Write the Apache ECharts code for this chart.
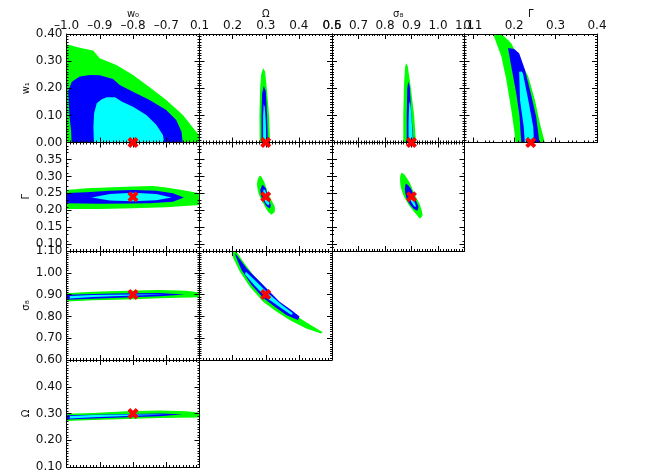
<!DOCTYPE html>
<html>
<head>
<meta charset="utf-8">
<script src="https://cdn.jsdelivr.net/npm/echarts@6/dist/echarts.min.js"></script>
<style>
html, body { margin: 0; padding: 0; background: #fff; }
#main { width: 664px; height: 475px; }
</style>
</head>
<body>
<div id="main"></div>
<script>
// fiducial model (red crosses)
var fidW0 = -0.8, fidW1 = 0.0, fidOmega = 0.3, fidSigma8 = 0.9, fidGamma = 0.24;

// tick labels
var w0Ticks = [-1.0, -0.9, -0.8, -0.7];
var omegaXTicks = [0.1, 0.2, 0.3, 0.4, 0.5];
var sigmaXTicks = [0.6, 0.7, 0.8, 0.9, 1.0, 1.1];
var gammaXTicks = [0.1, 0.2, 0.3, 0.4];
var w1Ticks = [0.0, 0.1, 0.2, 0.3, 0.4];
var gammaYTicks = [0.10, 0.15, 0.20, 0.25, 0.30, 0.35];
var sigmaYTicks = [0.6, 0.7, 0.8, 0.9, 1.0, 1.1];
var omegaYTicks = [0.1, 0.2, 0.3, 0.4];

/* contours [x, y], outer (green) -> middle (blue) -> inner (cyan) */
// w1 vs w0
var w1w0Green = [[-1.03,0.362],[-1.0,0.362],[-0.96,0.349],[-0.92,0.339],[-0.90,0.311],[-0.85,0.286],[-0.80,0.249],[-0.75,0.204],[-0.70,0.157],[-0.65,0.101],[-0.61,0.040],[-0.59,0.015],[-0.59,-0.03],[-1.03,-0.03]];
var w1w0Blue = [[-0.984,-0.03],[-0.986,0.04],[-0.991,0.095],[-0.995,0.19],[-0.984,0.224],[-0.96,0.243],[-0.93,0.249],[-0.90,0.248],[-0.86,0.234],[-0.84,0.212],[-0.80,0.187],[-0.75,0.157],[-0.70,0.12],[-0.67,0.083],[-0.654,0.04],[-0.648,-0.03]];
var w1w0Cyan = [[-0.917,-0.03],[-0.919,0.058],[-0.917,0.108],[-0.909,0.145],[-0.894,0.159],[-0.879,0.167],[-0.854,0.167],[-0.834,0.151],[-0.80,0.132],[-0.76,0.101],[-0.73,0.065],[-0.71,0.028],[-0.702,-0.03]];
// w1 vs Omega
var w1OmGreen = [[0.282,-0.03],[0.281,0.10],[0.283,0.20],[0.286,0.25],[0.292,0.274],[0.298,0.262],[0.303,0.20],[0.310,0.10],[0.314,-0.03]];
var w1OmBlue = [[0.287,-0.03],[0.287,0.10],[0.289,0.18],[0.294,0.208],[0.300,0.19],[0.304,0.10],[0.307,-0.03]];
var w1OmCyan = [[0.292,-0.03],[0.292,0.10],[0.294,0.142],[0.297,0.13],[0.300,0.08],[0.302,-0.03]];
// w1 vs sigma8
var w1SgGreen = [[0.869,-0.03],[0.869,0.10],[0.872,0.22],[0.876,0.28],[0.880,0.292],[0.886,0.28],[0.895,0.22],[0.910,0.10],[0.919,-0.03]];
var w1SgBlue = [[0.882,-0.03],[0.882,0.10],[0.884,0.20],[0.888,0.224],[0.893,0.21],[0.900,0.10],[0.911,-0.03]];
var w1SgCyan = [[0.889,-0.03],[0.889,0.08],[0.891,0.14],[0.894,0.151],[0.897,0.13],[0.903,0.05],[0.907,-0.03]];
// w1 vs Gamma
var w1GaGreen = [[0.148,0.43],[0.170,0.43],[0.170,0.40],[0.193,0.366],[0.213,0.304],[0.234,0.243],[0.250,0.157],[0.262,0.071],[0.274,0.0],[0.276,-0.03],[0.203,-0.03],[0.203,0.0],[0.201,0.034],[0.193,0.120],[0.181,0.231],[0.169,0.317],[0.149,0.40]];
var w1GaBlue = [[0.185,0.348],[0.200,0.345],[0.212,0.329],[0.226,0.268],[0.242,0.169],[0.253,0.095],[0.261,0.0],[0.262,-0.03],[0.217,-0.03],[0.217,0.0],[0.213,0.095],[0.205,0.182],[0.193,0.280]];
var w1GaCyan = [[0.212,0.261],[0.218,0.262],[0.221,0.255],[0.234,0.157],[0.246,0.058],[0.249,-0.03],[0.227,-0.03],[0.223,0.058],[0.214,0.157]];
// Gamma vs w0
var gaW0Green = [[-1.03,0.26],[-1.0,0.26],[-0.94,0.265],[-0.80,0.270],[-0.74,0.272],[-0.70,0.267],[-0.64,0.258],[-0.60,0.25],[-0.59,0.248],[-0.59,0.216],[-0.60,0.216],[-0.70,0.209],[-0.80,0.206],[-0.90,0.204],[-1.0,0.204],[-1.03,0.204]];
var gaW0Blue = [[-1.03,0.25],[-0.94,0.253],[-0.87,0.258],[-0.80,0.26],[-0.73,0.258],[-0.68,0.25],[-0.647,0.238],[-0.68,0.225],[-0.75,0.221],[-0.80,0.22],[-0.90,0.219],[-1.03,0.221]];
var gaW0Cyan = [[-0.924,0.238],[-0.87,0.248],[-0.80,0.252],[-0.73,0.248],[-0.684,0.238],[-0.73,0.230],[-0.80,0.227],[-0.87,0.229]];
// Gamma vs Omega
var gaOmGreen = [[0.282,0.302],[0.287,0.299],[0.297,0.280],[0.307,0.250],[0.317,0.230],[0.327,0.211],[0.327,0.196],[0.317,0.188],[0.307,0.196],[0.292,0.221],[0.280,0.245],[0.274,0.270],[0.275,0.289]];
var gaOmBlue = [[0.290,0.275],[0.300,0.265],[0.307,0.240],[0.315,0.216],[0.312,0.206],[0.300,0.216],[0.287,0.240],[0.284,0.260]];
var gaOmCyan = [[0.294,0.262],[0.299,0.258],[0.304,0.245],[0.311,0.222],[0.308,0.214],[0.298,0.225],[0.291,0.245]];
// Gamma vs sigma8
var gaSgGreen = [[0.863,0.311],[0.875,0.304],[0.894,0.280],[0.913,0.245],[0.932,0.216],[0.942,0.186],[0.932,0.176],[0.920,0.186],[0.894,0.211],[0.872,0.240],[0.859,0.270],[0.857,0.299]];
var gaSgBlue = [[0.879,0.278],[0.897,0.265],[0.913,0.235],[0.926,0.211],[0.922,0.199],[0.907,0.206],[0.884,0.230],[0.875,0.260]];
var gaSgCyan = [[0.892,0.252],[0.900,0.245],[0.912,0.222],[0.917,0.211],[0.910,0.212],[0.897,0.228],[0.889,0.245]];
// sigma8 vs w0
var sgW0Green = [[-1.03,0.906],[-1.0,0.906],[-0.92,0.913],[-0.82,0.918],[-0.72,0.921],[-0.64,0.918],[-0.60,0.91],[-0.59,0.905],[-0.59,0.888],[-0.60,0.888],[-0.72,0.883],[-0.82,0.878],[-0.92,0.874],[-1.0,0.868],[-1.03,0.868]];
var sgW0Blue = [[-1.03,0.898],[-0.92,0.903],[-0.82,0.906],[-0.72,0.907],[-0.644,0.901],[-0.72,0.892],[-0.82,0.887],[-0.92,0.881],[-1.03,0.875]];
var sgW0Cyan = [[-0.99,0.894],[-0.92,0.898],[-0.82,0.901],[-0.70,0.900],[-0.82,0.895],[-0.92,0.889],[-0.99,0.882]];
// sigma8 vs Omega
var sgOmGreen = [[0.197,1.12],[0.212,1.12],[0.212,1.097],[0.232,1.051],[0.262,0.990],[0.297,0.936],[0.332,0.875],[0.372,0.822],[0.422,0.773],[0.472,0.727],[0.467,0.722],[0.422,0.745],[0.372,0.783],[0.332,0.822],[0.292,0.867],[0.252,0.936],[0.222,1.005],[0.202,1.067],[0.197,1.097]];
var sgOmBlue = [[0.207,1.089],[0.212,1.082],[0.242,1.021],[0.272,0.975],[0.307,0.921],[0.342,0.867],[0.377,0.829],[0.402,0.799],[0.397,0.783],[0.362,0.806],[0.327,0.844],[0.292,0.886],[0.257,0.944],[0.227,1.013],[0.210,1.074]];
var sgOmCyan = [[0.240,1.005],[0.272,0.959],[0.307,0.906],[0.347,0.855],[0.382,0.814],[0.377,0.806],[0.342,0.843],[0.302,0.886],[0.267,0.941],[0.237,0.993]];
// Omega vs w0
var omW0Green = [[-1.03,0.298],[-0.92,0.302],[-0.82,0.308],[-0.72,0.311],[-0.64,0.308],[-0.605,0.304],[-0.59,0.30],[-0.59,0.285],[-0.72,0.283],[-0.82,0.279],[-0.92,0.276],[-1.03,0.270]];
var omW0Blue = [[-1.03,0.293],[-0.92,0.295],[-0.82,0.298],[-0.72,0.300],[-0.65,0.297],[-0.72,0.290],[-0.82,0.286],[-0.92,0.281],[-1.03,0.276]];
var omW0Cyan = [[-0.99,0.291],[-0.92,0.294],[-0.82,0.296],[-0.70,0.296],[-0.82,0.291],[-0.92,0.286],[-0.99,0.281]];

var GREEN = '#00ff00', BLUE = '#0000ff', CYAN = '#00ffff';
var FONT = 'DejaVu Sans';

// layout of the triangle
var colLeft = [66.5, 199.5, 332, 464.5], colW = [133, 132.5, 132.5, 132.5];
var rowTop = [34, 142.5, 251, 360], rowH = [108.5, 108.5, 109, 107];

function fmt1(v){ return v.toFixed(1).replace('-', '\u2013'); }
function fmt2(v){ return v.toFixed(2); }

var xSpec = [
	{name:'w\u2080', min:-1.0, max:-0.6, interval:0.1, minor:10, ticks:w0Ticks, fmt:fmt1},
	{name:'\u03a9', min:0.1, max:0.5, interval:0.1, minor:10, ticks:omegaXTicks, fmt:fmt1},
	{name:'\u03c3\u2088', min:0.6, max:1.1, interval:0.1, minor:10, ticks:sigmaXTicks, fmt:fmt1},
	{name:'\u0393', min:0.08, max:0.40, interval:0.04, minor:4, ticks:gammaXTicks, fmt:fmt1}
];
var ySpec = [
	{name:'w\u2081', min:0.0, max:0.4, interval:0.1, minor:10, ticks:w1Ticks, fmt:fmt2},
	{name:'\u0393', min:0.08, max:0.40, interval:0.04, minor:4, ticks:gammaYTicks, fmt:fmt2},
	{name:'\u03c3\u2088', min:0.6, max:1.1, interval:0.1, minor:10, ticks:sigmaYTicks, fmt:fmt2},
	{name:'\u03a9', min:0.1, max:0.5, interval:0.1, minor:10, ticks:omegaYTicks, fmt:fmt2}
];

// row, col, contours, fiducial point, curve smoothing
var panels = [
	{row:0, col:0, polys:[w1w0Green, w1w0Blue, w1w0Cyan], fid:[fidW0, fidW1], smooth:0},
	{row:0, col:1, polys:[w1OmGreen, w1OmBlue, w1OmCyan], fid:[fidOmega, fidW1], smooth:0},
	{row:0, col:2, polys:[w1SgGreen, w1SgBlue, w1SgCyan], fid:[fidSigma8, fidW1], smooth:0},
	{row:0, col:3, polys:[w1GaGreen, w1GaBlue, w1GaCyan], fid:[fidGamma, fidW1], smooth:0},
	{row:1, col:0, polys:[gaW0Green, gaW0Blue, gaW0Cyan], fid:[fidW0, fidGamma], smooth:0},
	{row:1, col:1, polys:[gaOmGreen, gaOmBlue, gaOmCyan], fid:[fidOmega, fidGamma], smooth:0.2},
	{row:1, col:2, polys:[gaSgGreen, gaSgBlue, gaSgCyan], fid:[fidSigma8, fidGamma], smooth:0.2},
	{row:2, col:0, polys:[sgW0Green, sgW0Blue, sgW0Cyan], fid:[fidW0, fidSigma8], smooth:0},
	{row:2, col:1, polys:[sgOmGreen, sgOmBlue, sgOmCyan], fid:[fidOmega, fidSigma8], smooth:0},
	{row:3, col:0, polys:[omW0Green, omW0Blue, omW0Cyan], fid:[fidW0, fidOmega], smooth:0}
];

function makeAxis(spec, gi, pos, labelled, isX){
	return {
		type: 'value', gridIndex: gi, position: pos, z: 5,
		min: spec.min, max: spec.max, interval: spec.interval,
		name: labelled ? spec.name : '',
		nameLocation: 'middle',
		nameGap: isX ? 10 : 34,
		nameTextStyle: {fontFamily: FONT, fontSize: 10, color: '#111'},
		axisLine: {show: true, onZero: false, lineStyle: {color: '#000', width: 1}},
		axisTick: {show: true, inside: true, length: 5, customValues: spec.ticks, lineStyle: {color: '#000', width: 1}},
		minorTick: {show: true, splitNumber: spec.minor, length: 2, lineStyle: {color: '#000', width: 1}},
		axisLabel: {show: labelled, customValues: spec.ticks, formatter: spec.fmt, margin: isX ? 2 : 4,
			fontFamily: FONT, fontSize: 12, color: '#111'},
		splitLine: {show: false},
		minorSplitLine: {show: false}
	};
}

var grids = [], xAxes = [], yAxes = [], series = [];
var colors = [GREEN, BLUE, CYAN];
var crossPath = 'path://M3,0 L6,3 L9,0 L12,3 L9,6 L12,9 L9,12 L6,9 L3,12 L0,9 L3,6 L0,3 Z';

panels.forEach(function(p, i){
	grids.push({left: colLeft[p.col], top: rowTop[p.row], width: colW[p.col], height: rowH[p.row],
		outerBoundsMode: 'none', containLabel: false});
	var xi = xAxes.length, yi = yAxes.length;
	xAxes.push(makeAxis(xSpec[p.col], i, 'bottom', false, true));
	xAxes.push(makeAxis(xSpec[p.col], i, 'top', p.row === 0, true));
	yAxes.push(makeAxis(ySpec[p.row], i, 'left', p.col === 0, false));
	yAxes.push(makeAxis(ySpec[p.row], i, 'right', false, false));
	p.polys.forEach(function(poly, k){
		series.push({
			type: 'custom', xAxisIndex: xi, yAxisIndex: yi, clip: true, silent: true, z: 2,
			data: [0],
			renderItem: function(params, api){
				return {
					type: 'polygon',
					shape: {points: poly.map(function(d){ return api.coord(d); }), smooth: p.smooth},
					style: {fill: colors[k]}
				};
			}
		});
	});
	series.push({
		type: 'scatter', xAxisIndex: xi, yAxisIndex: yi, clip: false, silent: true, z: 10,
		symbol: crossPath, symbolSize: 11,
		itemStyle: {color: '#ff0000', opacity: 1},
		data: [p.fid]
	});
});

var chart = echarts.init(document.getElementById('main'));
chart.setOption({
	backgroundColor: '#fff',
	animation: false,
	grid: grids,
	xAxis: xAxes,
	yAxis: yAxes,
	series: series
});
</script>
</body>
</html>
